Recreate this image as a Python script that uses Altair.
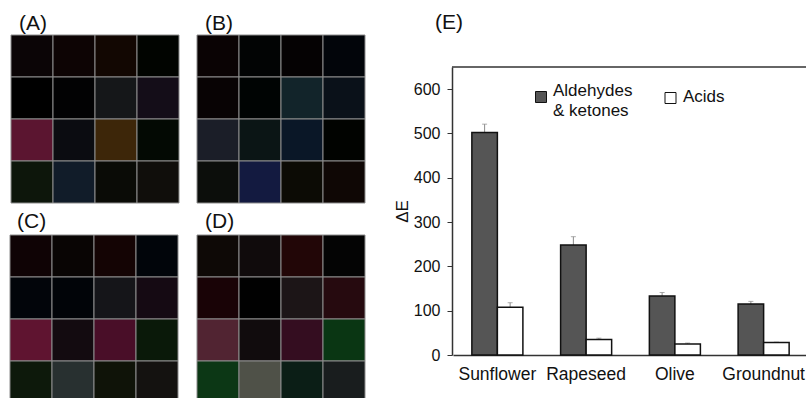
import altair as alt
import pandas as pd

# ---------------- data ----------------
oils = ["Sunflower", "Rapeseed", "Olive", "Groundnut"]
series = ["Aldehydes & ketones", "Acids"]
ald_values = [502, 248, 133, 115]
ald_err = [19, 19, 8, 6]
acid_values = [108, 35, 25, 28]
acid_err = [10, 3, 2, 1]
y_ticks = [0, 100, 200, 300, 400, 500, 600]
panel_labels = ["(A)", "(B)", "(C)", "(D)", "(E)"]

panel_A = [
    ["#0b0506", "#0d0404", "#120702", "#010400"],
    ["#000000", "#020203", "#151719", "#140d18"],
    ["#5b1530", "#0b0c11", "#3d2609", "#030903"],
    ["#0d160b", "#111c29", "#0a0b06", "#100e0b"],
]
panel_B = [
    ["#0a0304", "#020404", "#050203", "#02050a"],
    ["#080304", "#000403", "#12242a", "#0a1119"],
    ["#1b1e28", "#0b1515", "#0a1727", "#010300"],
    ["#0c0e0b", "#131a40", "#0c0b05", "#0f0705"],
]
panel_C = [
    ["#0f0305", "#090504", "#140404", "#01050a"],
    ["#02050a", "#010408", "#151519", "#150a13"],
    ["#5f1430", "#130b10", "#490e28", "#0a1909"],
    ["#0d190b", "#283030", "#0f1308", "#141210"],
]
panel_D = [
    ["#0e0906", "#100b0c", "#220607", "#040404"],
    ["#190306", "#010101", "#1c1517", "#260a0f"],
    ["#512432", "#110c0d", "#340d20", "#0a3613"],
    ["#0c3715", "#4f5148", "#0b1e16", "#191d1e"],
]

FONT = "Liberation Sans"
CELL = 168


def heat(colors, x0, y0):
    df = pd.DataFrame(
        [{"row": r, "col": c, "color": colors[r][c]} for r in range(4) for c in range(4)]
    )
    return alt.Chart(df).mark_rect(stroke="#8c8c8c", strokeWidth=1).encode(
        x=alt.X("col:O", scale=alt.Scale(range=[x0, x0 + CELL], paddingInner=0, paddingOuter=0), axis=None),
        y=alt.Y("row:O", scale=alt.Scale(range=[y0, y0 + CELL], paddingInner=0, paddingOuter=0), axis=None),
        fill=alt.Fill("color:N", scale=None),
    )


def label(txt, x, y):
    return alt.Chart(pd.DataFrame({"t": [txt]})).mark_text(
        align="left", baseline="middle", font=FONT, fontSize=21, color="#111"
    ).encode(x=alt.value(x), y=alt.value(y), text="t:N")


# ---------------- bar chart (E) ----------------
bars_df = pd.DataFrame({
    "oil": oils * 2,
    "series": [series[0]] * 4 + [series[1]] * 4,
    "value": ald_values + acid_values,
    "err": ald_err + acid_err,
})

x_enc = alt.X(
    "oil:N", sort=oils,
    scale=alt.Scale(range=[453, 808], paddingInner=0.425, paddingOuter=0.2125),
    axis=alt.Axis(orient="bottom", offset=-43, title=None, labelAngle=0, ticks=False, tickSize=0,
                  labelFontSize=17.5, labelFont=FONT, labelColor="#111", labelPadding=10,
                  domainColor="#333", domainWidth=1.5),
)
xoff_enc = alt.XOffset("series:N", sort=series, scale=alt.Scale(paddingInner=0, paddingOuter=0))
y_scale = alt.Scale(domain=[0, 650], range=[355, 67], nice=False, zero=True)
y_axis = alt.Axis(orient="left", offset=-452, values=y_ticks, title="ΔE", grid=False,
                  tickSize=5, tickColor="#333", labelFontSize=16, labelFont=FONT, labelColor="#111",
                  labelPadding=7, domainColor="#333", domainWidth=1.5,
                  titleFont=FONT, titleFontSize=17, titleFontWeight="normal", titleColor="#111",
                  titlePadding=2)
fill_scale = alt.Scale(domain=series, range=["#555555", "#ffffff"])

bars = alt.Chart(bars_df).mark_bar(stroke="#111", strokeWidth=1.5).encode(
    x=x_enc,
    xOffset=xoff_enc,
    y=alt.Y("value:Q", scale=y_scale, axis=y_axis),
    fill=alt.Fill("series:N", sort=series, scale=fill_scale, legend=None),
)

err_rule = alt.Chart(bars_df).transform_calculate(top="datum.value + datum.err").mark_rule(
    color="#8a8a8a", strokeWidth=1
).encode(
    x=x_enc, xOffset=xoff_enc,
    y=alt.Y("value:Q", scale=y_scale, axis=y_axis),
    y2="top:Q",
)
err_cap = alt.Chart(bars_df).transform_calculate(top="datum.value + datum.err").mark_tick(
    color="#8a8a8a", size=5, thickness=1
).encode(
    x=x_enc, xOffset=xoff_enc,
    y=alt.Y("top:Q", scale=y_scale, axis=y_axis),
)

frame_top = alt.Chart(pd.DataFrame({"v": [650]})).mark_rule(color="#333", strokeWidth=1.5).encode(
    x=alt.value(452), x2=alt.value(806), y=alt.Y("v:Q", scale=y_scale, axis=y_axis)
)


# legend drawn from the series names, through the same fill scale
def legend_entry(name, sx, sy, tx, ty):
    df = pd.DataFrame({"series": [name]})
    sym = alt.Chart(df).mark_square(size=121, stroke="#111", strokeWidth=1, opacity=1).encode(
        x=alt.value(sx), y=alt.value(sy),
        fill=alt.Fill("series:N", sort=series, scale=fill_scale, legend=None),
    )
    txt = alt.Chart(df).transform_calculate(
        lab="replace(datum.series, ' & ', '\\n& ')"
    ).mark_text(
        align="left", baseline="alphabetic", font=FONT, fontSize=17, color="#111",
        lineBreak="\n", lineHeight=20,
    ).encode(x=alt.value(tx), y=alt.value(ty), text="lab:N")
    return sym + txt


bar_chart = alt.layer(
    err_rule, err_cap, bars, frame_top,
    legend_entry(series[0], 541, 97, 553, 95.5),
    legend_entry(series[1], 670.5, 98, 683, 102),
)

chart = alt.layer(
    heat(panel_A, 11, 35), heat(panel_B, 197, 35),
    heat(panel_C, 10, 235), heat(panel_D, 197, 235),
    bar_chart,
    label(panel_labels[0], 19, 24), label(panel_labels[1], 205, 24),
    label(panel_labels[2], 17, 222), label(panel_labels[3], 205, 222),
    label(panel_labels[4], 435, 23),
).resolve_scale(
    x="independent", y="independent", fill="independent", xOffset="independent"
).properties(
    width=806, height=398, autosize=alt.AutoSizeParams(type="none"), padding=0, background="white"
).configure_view(stroke=None)

chart.save("out.html", embed_options={"renderer": "svg", "actions": False})
